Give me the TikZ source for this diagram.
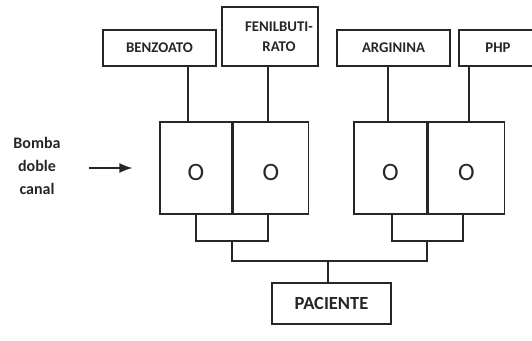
\documentclass[tikz,border=0pt]{standalone}
\usepackage{fontspec}
\setmainfont{Carlito}
\usetikzlibrary{positioning, arrows.meta}

\begin{document}
\begin{tikzpicture}[
  x=1pt, y=-1pt,
  color=black!85, line width=1.3pt,
  txt/.style={font=\fontsize{14.8}{20}\selectfont\bfseries, align=center, inner sep=0pt},
  lbl/.style={txt, draw, minimum height=36pt},
  pump/.style={draw, minimum height=92pt, inner sep=0pt},
  ring/.style={font=\fontsize{25}{26}\selectfont, inner sep=0pt},
  arrow/.style={-{Latex[length=13pt,width=10pt]}},
]
\useasboundingbox (0,0) rectangle (532,340);

% substances on top
\node[lbl, minimum width=113pt] (benz) at (159.5,48) {BENZOATO};
\node[lbl, minimum width=96pt, minimum height=59pt] (fenil) at (270,36.5) {};
\node[txt] (fentxt) at ([xshift=9pt]fenil.center) {FENILBUTI-\\RATO};
\node[lbl, minimum width=113pt] (arg) at (393.5,48) {ARGININA};
\node[lbl, minimum width=78pt] (php) at (498,48) {PHP};

% pumps
\node[pump, minimum width=72pt] (p1) at (196,168) {};
\node[pump, minimum width=75pt, right=0pt of p1] (p2) {};
\node[pump, minimum width=73pt] (p3) at (390.5,168) {};
\node[pump, minimum width=76pt, right=0pt of p3] (p4) {};
\foreach \p in {p1,p2,p3,p4}
  \node[ring] (o-\p) at ([yshift=-4pt]\p.center) {O};

\node[font=\fontsize{16}{23}\selectfont\bfseries, align=center, inner sep=0pt] (bomba) at (37,166) {Bomba\\doble\\canal};
\draw[arrow, shorten <=28pt, shorten >=27pt] (bomba.east |- p1.west) -- (p1.west);

\node[lbl, font=\fontsize{18.5}{22}\selectfont\bfseries, minimum width=119pt, minimum height=41pt] (pac) at (331.5,303.5) {PACIENTE};

% feeds
\coordinate (t1) at (188,0);
\coordinate (t2) at (268,0);
\coordinate (t3) at (388,0);
\coordinate (t4) at (469,0);
\draw (benz.south -| t1) -- (p1.north -| t1);
\draw (fenil.south -| t2) -- (p2.north -| t2);
\draw (arg.south -| t3) -- (p3.north -| t3);
\draw (php.south -| t4) -- (p4.north -| t4);

% outlets
\coordinate (b1) at (196,241);
\coordinate (b2) at (268,241);
\coordinate (b3) at (392,241);
\coordinate (b4) at (463,241);
\coordinate (m1) at (232,261);
\coordinate (m2) at (427,261);
\coordinate (pc) at (328,261);
\draw (p1.south -| b1) -- (b1) -- (b2) -- (p2.south -| b2);
\draw (p3.south -| b3) -- (b3) -- (b4) -- (p4.south -| b4);
\draw (m1 |- b1) -- (m1) -- (m2) -- (m2 |- b3);
\draw (pc) -- (pac.north -| pc);
\end{tikzpicture}
\end{document}
